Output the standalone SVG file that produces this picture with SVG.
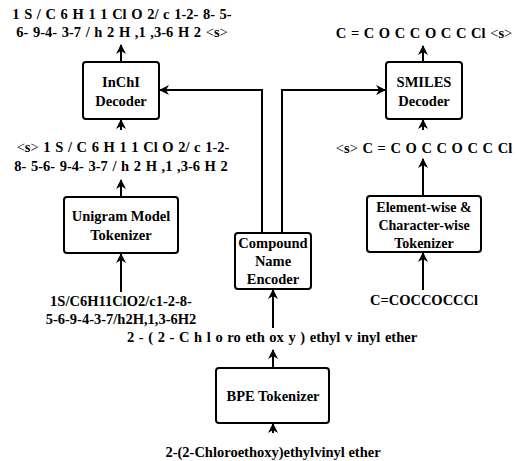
<svg xmlns="http://www.w3.org/2000/svg" width="518" height="461" viewBox="0 0 518 461">
<defs>
<marker id="ah" viewBox="0 0 10 10" refX="9" refY="5" markerWidth="5" markerHeight="5" orient="auto" markerUnits="strokeWidth">
<path d="M0,0 L10,5 L0,10 L3,5 Z" fill="#000"/>
</marker>
<style>
.box{fill:#fff;stroke:#000;stroke-width:2}
text{font-family:'Liberation Serif','Times New Roman',serif;font-weight:bold;font-size:14.5px;fill:#000;text-anchor:middle}
.s{font-size:14px}
.w{word-spacing:1px}
.n{font-weight:normal}
.c{fill:none;stroke:#000;stroke-width:2;marker-end:url(#ah)}
</style>
</defs>
<rect width="518" height="461" fill="#fff"/>
<g id="connectors">
<path class="c" d="M121,62 L121,45"/>
<path class="c" d="M121,130 L121,120"/>
<path class="c" d="M121,197 L121,180"/>
<path class="c" d="M121,292 L121,254"/>
<path class="c" d="M262,233 L262,90 L160,90"/>
<path class="c" d="M282,233 L282,90 L385,90"/>
<path class="c" d="M423,62 L423,46"/>
<path class="c" d="M423,130 L423,120"/>
<path class="c" d="M423,196 L423,159"/>
<path class="c" d="M423,290 L423,253"/>
<path class="c" d="M273,328 L273,290"/>
<path class="c" d="M273,368 L273,350"/>
<path class="c" d="M273,433 L273,424"/>
</g>
<g id="inchi-decoder">
<rect class="box" x="83" y="62" width="76" height="57" rx="3"/>
<text x="121" y="87">InChI</text>
<text x="121" y="106">Decoder</text>
</g>
<g id="smiles-decoder">
<rect class="box" x="386" y="62" width="76" height="57" rx="3"/>
<text x="424" y="87">SMILES</text>
<text x="424" y="106">Decoder</text>
</g>
<g id="unigram-tokenizer">
<rect class="box" x="64" y="197" width="114" height="56" rx="3"/>
<text x="121" y="221">Unigram Model</text>
<text x="121" y="240">Tokenizer</text>
</g>
<g id="element-tokenizer">
<rect class="box" x="367" y="196" width="114" height="56" rx="3"/>
<text class="s" x="424" y="212">Element-wise &amp;</text>
<text class="s" x="424" y="230">Character-wise</text>
<text class="s" x="424" y="248">Tokenizer</text>
</g>
<g id="compound-encoder">
<rect class="box" x="235" y="233" width="76" height="56" rx="3"/>
<text x="273" y="248">Compound</text>
<text x="273" y="266">Name</text>
<text x="273" y="284">Encoder</text>
</g>
<g id="bpe-tokenizer">
<rect class="box" x="216" y="368" width="113" height="55" rx="3"/>
<text x="273" y="401">BPE Tokenizer</text>
</g>
<g id="labels">
<text class="w" x="122" y="19">1 S / C 6 H 1 1 Cl O 2/ c 1-2- 8- 5-</text>
<text class="w" x="122" y="37">6- 9-4- 3-7 / h 2 H ,1 ,3-6 H 2 <tspan class="n">&lt;</tspan>s<tspan class="n">&gt;</tspan></text>
<text class="w" x="123" y="152"><tspan class="n">&lt;</tspan>s<tspan class="n">&gt;</tspan> 1 S / C 6 H 1 1 Cl O 2/ c 1-2-</text>
<text class="w" x="121" y="171">8- 5-6- 9-4- 3-7 / h 2 H ,1 ,3-6 H 2</text>
<text x="121" y="306">1S/C6H11ClO2/c1-2-8-</text>
<text x="121" y="324">5-6-9-4-3-7/h2H,1,3-6H2</text>
<text class="w" x="424" y="38">C = C O C C O C C Cl <tspan class="n">&lt;</tspan>s<tspan class="n">&gt;</tspan></text>
<text class="w" x="424" y="153"><tspan class="n">&lt;</tspan>s<tspan class="n">&gt;</tspan> C = C O C C O C C Cl</text>
<text x="424" y="305">C=COCCOCCCl</text>
<text class="w" x="272" y="342">2 - ( 2 - C h l o ro eth ox y ) ethyl v inyl ether</text>
<text x="273" y="457">2-(2-Chloroethoxy)ethylvinyl ether</text>
</g>
</svg>
